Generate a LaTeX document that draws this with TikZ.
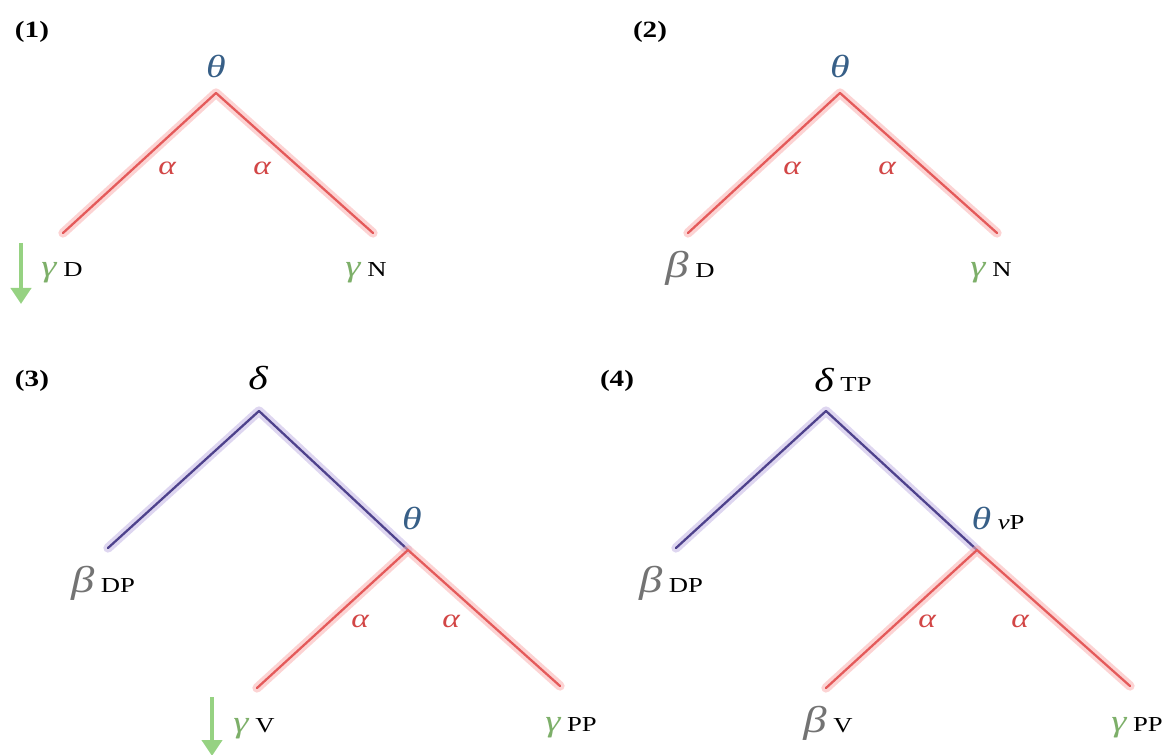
\documentclass[tikz,border=0pt]{standalone}
\usepackage{fontspec}
\setmainfont[FakeStretch=1.25]{Liberation Serif}
\usetikzlibrary{arrows.meta}
\definecolor{redl}{RGB}{228,90,90}
\definecolor{redh}{RGB}{250,175,175}
\definecolor{purl}{RGB}{78,66,140}
\definecolor{purh}{RGB}{195,180,228}
\definecolor{thc}{RGB}{55,95,135}
\definecolor{alc}{RGB}{210,70,70}
\definecolor{gmc}{RGB}{125,175,105}
\definecolor{arc}{RGB}{150,210,130}
\definecolor{btc}{RGB}{115,115,115}
\tikzset{
  lbl/.style  ={font=\fontsize{16}{18}\selectfont, inner sep=0pt, anchor=base},
  num/.style  ={lbl, font=\fontsize{17.5}{20}\selectfont\bfseries},
  th/.style   ={lbl, text=thc, font=\fontsize{24}{26}\selectfont\itshape},
  al/.style   ={lbl, text=alc, font=\fontsize{20}{22}\selectfont\itshape},
  redbr/.style={draw=redl, line width=1.7pt, line cap=round, line join=round,
                preaction={draw=redh, line width=7pt, opacity=0.55, line cap=round, line join=round}},
  purbr/.style={draw=purl, line width=1.7pt, line cap=round, line join=round,
                preaction={draw=purh, line width=7pt, opacity=0.55, line cap=round, line join=round}},
  down/.style ={draw=arc, line width=3pt, -{Triangle[length=12pt,width=15pt]}}
}
\newcommand{\gm}{\textcolor{gmc}{\fontsize{23}{24}\selectfont\itshape γ}\hspace{5pt}}
\newcommand{\bt}{\textcolor{btc}{\fontsize{28}{28}\selectfont\itshape β}\hspace{5pt}}
\newcommand{\dl}{{\fontsize{25}{25}\selectfont\itshape δ}}

\begin{document}
\begin{tikzpicture}[x=0.75pt, y=-0.75pt]
  \useasboundingbox (0,0) rectangle (1172,755);

  % (1)
  \node[num] (n1) at (32,38) {(1)};
  \coordinate (r1) at (216,93);
  \coordinate (l1a) at (63,233);
  \coordinate (l1b) at (373,233);
  \draw[redbr] (l1a) -- (r1) -- (l1b);
  \node[th] (t1) at (216,78) {θ};
  \node[al] (a1a) at (167,175) {α};
  \node[al] (a1b) at (262,175) {α};
  \node[lbl] (d1) at (62,277) {\gm D};
  \node[lbl] (n1b) at (366,277) {\gm N};
  \coordinate (g1a) at (21,243);
  \coordinate (g1b) at (21,304);
  \draw[down] (g1a) -- (g1b);

  % (2)
  \node[num] (n2) at (650,38) {(2)};
  \coordinate (r2) at (840,93);
  \coordinate (l2a) at (688,233);
  \coordinate (l2b) at (997,233);
  \draw[redbr] (l2a) -- (r2) -- (l2b);
  \node[th] (t2) at (840,78) {θ};
  \node[al] (a2a) at (792,175) {α};
  \node[al] (a2b) at (887,175) {α};
  \node[lbl] (d2) at (690,278) {\bt D};
  \node[lbl] (n2b) at (991,277) {\gm N};

  % (3)
  \node[num] (n3) at (32,387) {(3)};
  \coordinate (r3) at (259,411);
  \coordinate (dp3) at (108,548);
  \coordinate (j3) at (408,550);
  \coordinate (l3a) at (257,688);
  \coordinate (l3b) at (560,686);
  \draw[purbr] (dp3) -- (r3) -- (j3);
  \draw[redbr] (l3a) -- (j3) -- (l3b);
  \node[lbl] (dl3) at (258,390) {\dl};
  \node[th] (t3) at (412,530) {θ};
  \node[al] (a3a) at (360,628) {α};
  \node[al] (a3b) at (451,628) {α};
  \node[lbl] (b3) at (103,593) {\bt DP};
  \node[lbl] (v3) at (254,732) {\gm V};
  \node[lbl] (pp3) at (571,731) {\gm PP};
  \coordinate (g3a) at (212,697);
  \coordinate (g3b) at (212,756);
  \draw[down] (g3a) -- (g3b);

  % (4)
  \node[num] (n4) at (617,387) {(4)};
  \coordinate (r4) at (826,411);
  \coordinate (dp4) at (676,548);
  \coordinate (j4) at (977,550);
  \coordinate (l4a) at (826,688);
  \coordinate (l4b) at (1130,686);
  \draw[purbr] (dp4) -- (r4) -- (j4);
  \draw[redbr] (l4a) -- (j4) -- (l4b);
  \node[lbl] (dl4) at (843,392) {\dl\hspace{5pt}TP};
  \node[lbl] (t4) at (998,530) {\textcolor{thc}{\fontsize{24}{26}\selectfont\itshape θ}\hspace{5pt}\textit{v}P};
  \node[al] (a4a) at (927,628) {α};
  \node[al] (a4b) at (1020,628) {α};
  \node[lbl] (b4) at (671,593) {\bt DP};
  \node[lbl] (v4) at (828,732) {\bt V};
  \node[lbl] (pp4) at (1137,731) {\gm PP};
\end{tikzpicture}
\end{document}
